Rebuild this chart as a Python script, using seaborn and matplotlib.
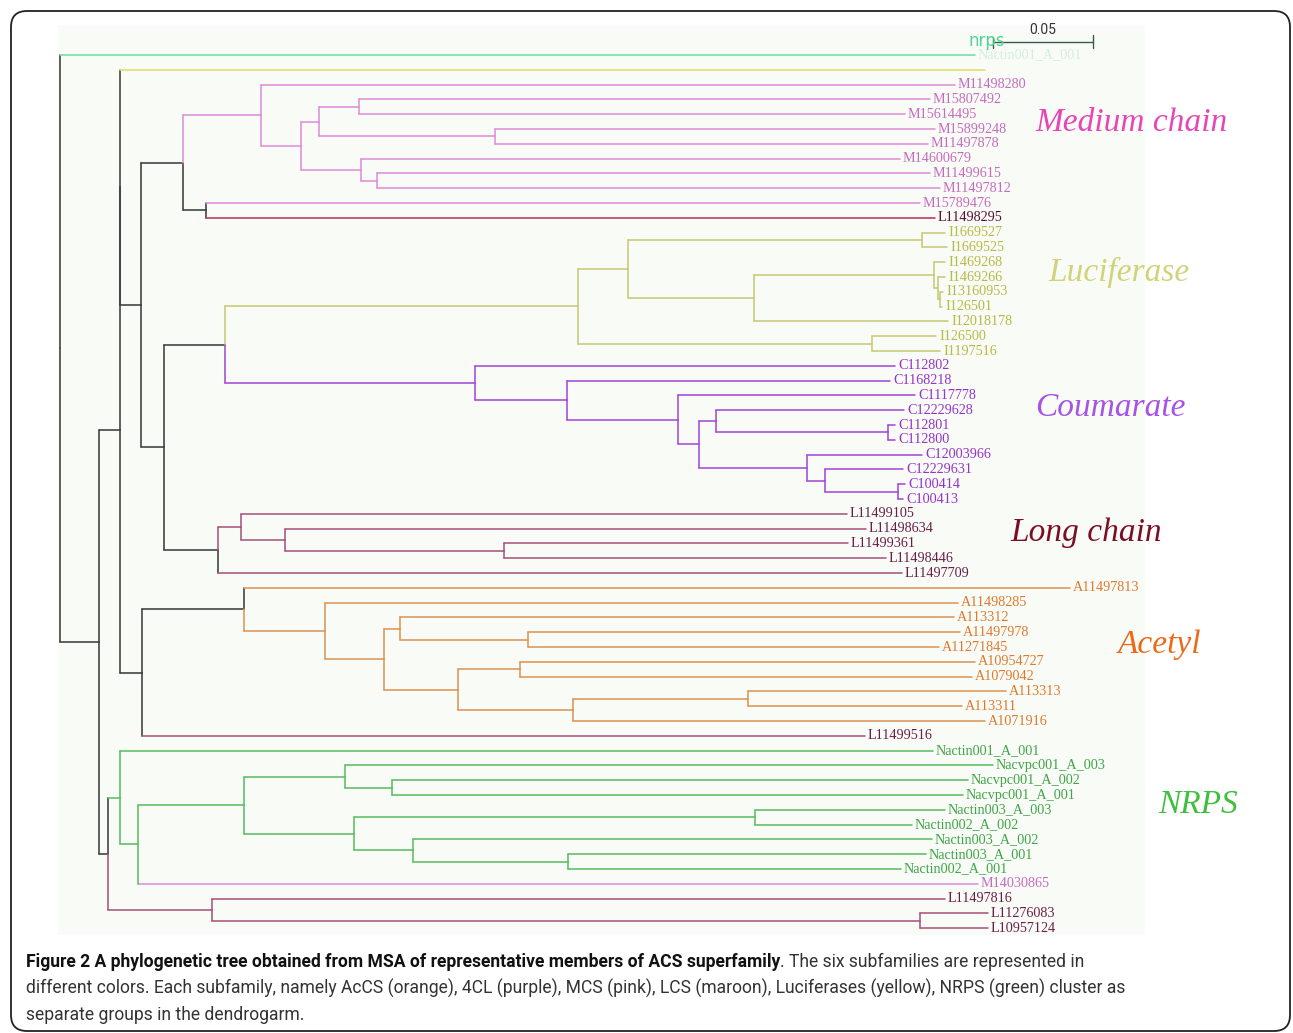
import matplotlib
matplotlib.use("Agg")
import matplotlib.pyplot as plt
from matplotlib.patches import FancyBboxPatch
from matplotlib.transforms import IdentityTransform
import seaborn as sns
import pandas as pd

W, H = 1293, 1033

# leaves, top to bottom
leaf_ids = ['nrps_top', 'luc_top',
            'M11498280', 'M15807492', 'M15614495', 'M15899248', 'M11497878',
            'M14600679', 'M11499615', 'M11497812', 'M15789476', 'L11498295',
            'I1669527', 'I1669525', 'I1469268', 'I1469266', 'I13160953',
            'I126501', 'I12018178', 'I126500', 'I1197516',
            'C112802', 'C1168218', 'C1117778', 'C12229628', 'C112801',
            'C112800', 'C12003966', 'C12229631', 'C100414', 'C100413',
            'L11499105', 'L11498634', 'L11499361', 'L11498446', 'L11497709',
            'A11497813', 'A11498285', 'A113312', 'A11497978', 'A11271845',
            'A10954727', 'A1079042', 'A113313', 'A113311', 'A1071916', 'L11499516',
            'Nactin001_A_001', 'Nacvpc001_A_003', 'Nacvpc001_A_002', 'Nacvpc001_A_001',
            'Nactin003_A_003', 'Nactin002_A_002', 'Nactin003_A_002', 'Nactin003_A_001',
            'Nactin002_A_001', 'M14030865',
            'L11497816', 'L11276083', 'L10957124']

leaf_groups = (['nrps_top', 'luc_top'] + ['medium'] * 9 + ['long_red']
               + ['luc'] * 9 + ['coum'] * 10 + ['long'] * 5
               + ['acetyl'] * 10 + ['long'] + ['nrps'] * 9 + ['medium']
               + ['long'] * 3)

# distance from the root to each tip
leaf_depth = [0.4575, 0.4625,
              0.4475, 0.435, 0.4225, 0.4375, 0.434, 0.420, 0.435, 0.440, 0.430, 0.4375,
              0.4425, 0.4435, 0.4425, 0.4425, 0.4415, 0.441, 0.444, 0.438, 0.440,
              0.4175, 0.415, 0.4275, 0.422, 0.4175, 0.4175, 0.431, 0.4215, 0.4225, 0.4215,
              0.3935, 0.403, 0.394, 0.413, 0.421,
              0.505, 0.449, 0.447, 0.450, 0.4395, 0.4575, 0.456, 0.473, 0.451, 0.4625, 0.4025,
              0.4365, 0.4665, 0.454, 0.4515, 0.4425, 0.426, 0.436, 0.433, 0.4205, 0.459,
              0.4425, 0.464, 0.464]

ghost_labels = {'nrps_top': 'Nactin001_A_001', 'luc_top': ''}

# internal nodes
node_ids = ['root', 'n99', 'n120', 'n120a', 'n141', 'med', 'n261', 'n301', 'n319',
            'n359', 'n495', 'n361', 'n377', 'n206', 'n164', 'n225', 'luc', 'n628',
            'n922', 'n754', 'n934', 'n938', 'n941', 'n872', 'coum', 'n567', 'n678',
            'n699', 'n716', 'n888', 'n807', 'n825', 'n898', 'lc', 'n241', 'n285',
            'n504', 'n142', 'acet', 'n325', 'n384', 'n400', 'n528', 'n458', 'n520',
            'n573', 'n748', 'n108', 'n120b', 'n138', 'n244', 'n345', 'n392', 'n354',
            'n755', 'n413', 'n568', 'n212', 'n920']
node_depth = [0.0, 0.0195, 0.030, 0.030, 0.0405, 0.0615, 0.1005, 0.1205, 0.1295,
              0.1495, 0.2175, 0.1505, 0.1585, 0.073, 0.052, 0.0825, 0.259, 0.284,
              0.431, 0.347, 0.437, 0.439, 0.440, 0.406, 0.2075, 0.2535, 0.309,
              0.3195, 0.328, 0.414, 0.3735, 0.3825, 0.419, 0.079, 0.0905, 0.1125,
              0.222, 0.041, 0.092, 0.1325, 0.162, 0.170, 0.234, 0.199, 0.230,
              0.2565, 0.344, 0.024, 0.030, 0.039, 0.092, 0.1425, 0.166, 0.147,
              0.3475, 0.1765, 0.254, 0.076, 0.430]
node_kids = [['nrps_top', 'n99'], ['n120', 'n108'], ['n120a', 'n142'],
             ['luc_top', 'n141'], ['med', 'n164'], ['n261', 'n206'],
             ['M11498280', 'n301'], ['n319', 'n361'], ['n359', 'n495'],
             ['M15807492', 'M15614495'], ['M15899248', 'M11497878'],
             ['M14600679', 'n377'], ['M11499615', 'M11497812'],
             ['M15789476', 'L11498295'], ['n225', 'lc'], ['luc', 'coum'],
             ['n628', 'n872'], ['n922', 'n754'], ['I1669527', 'I1669525'],
             ['n934', 'I12018178'], ['I1469268', 'n938'], ['I1469266', 'n941'],
             ['I13160953', 'I126501'], ['I126500', 'I1197516'],
             ['C112802', 'n567'], ['C1168218', 'n678'], ['C1117778', 'n699'],
             ['n716', 'n807'], ['C12229628', 'n888'], ['C112801', 'C112800'],
             ['C12003966', 'n825'], ['C12229631', 'n898'], ['C100414', 'C100413'],
             ['n241', 'L11497709'], ['L11499105', 'n285'], ['L11498634', 'n504'],
             ['L11499361', 'L11498446'], ['acet', 'L11499516'],
             ['A11497813', 'n325'], ['A11498285', 'n384'], ['n400', 'n458'],
             ['A113312', 'n528'], ['A11497978', 'A11271845'], ['n520', 'n573'],
             ['A10954727', 'A1079042'], ['n748', 'A1071916'], ['A113313', 'A113311'],
             ['n120b', 'n212'], ['Nactin001_A_001', 'n138'], ['n244', 'M14030865'],
             ['n345', 'n354'], ['Nacvpc001_A_003', 'n392'],
             ['Nacvpc001_A_002', 'Nacvpc001_A_001'], ['n755', 'n413'],
             ['Nactin003_A_003', 'Nactin002_A_002'], ['Nactin003_A_002', 'n568'],
             ['Nactin003_A_001', 'Nactin002_A_001'], ['L11497816', 'n920'],
             ['L11276083', 'L10957124']]

clade_titles = ['Medium chain', 'Luciferase', 'Coumarate', 'Long chain', 'Acetyl', 'NRPS']
scale_len = 0.05

caption_bold = ('Figure 2 A phylogenetic tree obtained from MSA of representative '
                'members of ACS superfamily')
caption_lines = ['. The six subfamilies are represented in',
                 'different colors. Each subfamily, namely AcCS (orange), 4CL (purple), '
                 'MCS (pink), LCS (maroon), Luciferases (yellow), NRPS (green) cluster as',
                 'separate groups in the dendrogarm.']

line_colors = {'dark': '#3d3d3d', 'medium': '#e08fd8', 'long': '#a9557f',
               'long_red': '#c2305a', 'luc': '#c8ca78', 'luc_top': '#e2e06a',
               'coum': '#a54ad8', 'acetyl': '#dc9657', 'nrps': '#5dbd64',
               'nrps_top': '#6ddfa6'}
label_colors = {'medium': '#c66cbf', 'long': '#6b1f48', 'long_red': '#5a0f2e',
                'luc': '#b8ba46', 'luc_top': '#b8ba46', 'coum': '#9633c8',
                'acetyl': '#df7a2d', 'nrps': '#3fa546', 'nrps_top': '#d3eee1'}
title_colors = ['#e646b6', '#d2d27a', '#a653e6', '#7a0e22', '#ea6a1a', '#3ec03e']
title_pos = [(1035, 123), (1048, 272), (1035, 408), (1010, 533), (1118, 645), (1158, 805)]
stem_override = {'lc': 'dark', 'acet': 'dark', 'n138': 'nrps', 'n120b': 'nrps'}

# ---- layout ----
row = {n: i for i, n in enumerate(leaf_ids)}
depth = dict(zip(leaf_ids, leaf_depth))
depth.update(zip(node_ids, node_depth))
kids = dict(zip(node_ids, node_kids))
grp = dict(zip(leaf_ids, leaf_groups))

ypos, clade = {}, {}


def place(n):
    if n in row:
        ypos[n] = row[n]
        clade[n] = {grp[n]}
        return
    for k in kids[n]:
        place(k)
    ys = [ypos[k] for k in kids[n]]
    ypos[n] = (min(ys) + max(ys)) / 2
    clade[n] = set().union(*[clade[k] for k in kids[n]])


place('root')


def colour(n):
    if n in stem_override:
        return stem_override[n]
    return next(iter(clade[n])) if len(clade[n]) == 1 else 'dark'


rows = []
seg = 0
for n in node_ids:
    for k in kids[n]:
        uniform = k in kids and k not in stem_override and len(clade[k]) == 1
        vcol = colour(k) if uniform else colour(n)
        rows += [(seg, depth[n], ypos[n], vcol), (seg, depth[n], ypos[k], vcol)]
        seg += 1
        rows += [(seg, depth[n], ypos[k], colour(k)), (seg, depth[k], ypos[k], colour(k))]
        seg += 1
segs = pd.DataFrame(rows, columns=['seg', 'x', 'y', 'col'])

# ---- drawing ----
sns.set_theme(style='white')
plt.rcParams['font.family'] = ['DejaVu Sans']
fig = plt.figure(figsize=(W / 100, H / 100), dpi=100)


def fx(px):
    return px / W


def fy(py):
    return 1 - py / H


ax = fig.add_axes([fx(58), fy(935), fx(1145) - fx(58), (935 - 25) / H])
ax.set_facecolor('#f9fbf7')
pal = {c: line_colors[c] for c in segs['col'].unique()}
sns.lineplot(data=segs, x='x', y='y', hue='col', units='seg', estimator=None,
             sort=False, palette=pal, legend=False, linewidth=1.15, ax=ax)
ax.set_xlim(-0.001, 0.5425)
ax.set_ylim(59.46, -2.03)
ax.set_xticks([])
ax.set_yticks([])
ax.set_xlabel('')
ax.set_ylabel('')
for s in ax.spines.values():
    s.set_visible(False)

for n in leaf_ids:
    lab = ghost_labels.get(n, n)
    ax.text(depth[n] + 0.0015, ypos[n], lab, ha='left', va='center',
            fontsize=10.2, family=['Liberation Serif', 'DejaVu Serif'],
            color=label_colors[grp[n]])

# scale bar
sx, sy = 0.4665, -0.9
ax.plot([sx, sx + scale_len], [sy, sy], color='#3b5a48', lw=1.0)
ax.plot([sx, sx], [sy - 0.35, sy + 0.45], color='#3b5a48', lw=1.0)
ax.plot([sx + scale_len, sx + scale_len], [sy - 0.45, sy + 0.45], color='#3b5a48', lw=1.0)
ax.text(sx + scale_len / 2, sy - 0.3, f'{scale_len:.2f}', ha='center', va='bottom',
        fontsize=10, color='#333333', family=['Roboto', 'DejaVu Sans'])
fig.text(fx(969), fy(41), 'nrps', ha='left', va='center', fontsize=12,
         color='#4fd594', family=['DejaVu Sans'])

for t, c, (px, py) in zip(clade_titles, title_colors, title_pos):
    fig.text(fx(px), fy(py), t, ha='left', va='center', fontsize=24,
             style='italic', color=c, family=['Liberation Serif', 'DejaVu Serif'])

# caption: fit the font size to the widths of the reference lines
cap_font = ['Roboto', 'DejaVu Sans']
tb = fig.text(fx(26), fy(962), caption_bold, ha='left', va='center', fontsize=14,
              fontweight='bold', family=cap_font, color='#111111')
t1 = fig.text(fx(26), fy(962), caption_lines[0], ha='left', va='center', fontsize=14,
              family=cap_font, color='#333333')
t2 = fig.text(fx(26), fy(988), caption_lines[1], ha='left', va='center', fontsize=14,
              family=cap_font, color='#333333')
t3 = fig.text(fx(26), fy(1015), caption_lines[2], ha='left', va='center', fontsize=14,
              family=cap_font, color='#333333')
fig.canvas.draw()
r = fig.canvas.get_renderer()
w_line1 = tb.get_window_extent(r).width + t1.get_window_extent(r).width
w_line2 = t2.get_window_extent(r).width
size = 14 * min((1277 - 26) / w_line1, (1135 - 26) / w_line2)
for t in (tb, t1, t2, t3):
    t.set_fontsize(size)
fig.canvas.draw()
t1.set_x(tb.get_window_extent(r).x1 / W)

fig.patches.append(FancyBboxPatch((11, 2), 1279, 1020,
                                  boxstyle='round,pad=0,rounding_size=16',
                                  transform=IdentityTransform(), fill=False,
                                  ec='#222222', lw=1.3))

fig.savefig('out.png', dpi=100)
